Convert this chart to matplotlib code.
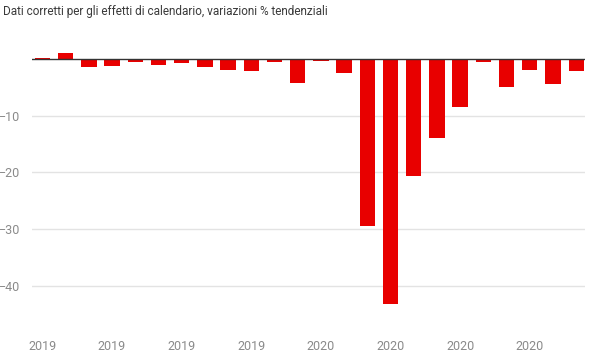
import matplotlib
matplotlib.use('Agg')
from matplotlib import pyplot as plt

# dati: variazioni % tendenziali
values = [0.2, 1.1, -1.35, -1.2, -0.5, -1.0, -0.65, -1.5, -1.9, -2.2, -0.5, -4.2,
          -0.3, -2.4, -29.4, -43.3, -20.6, -13.9, -8.4, -0.5, -4.9, -1.9, -4.4, -2.1]
tick_pos = [0, 3, 6, 9, 12, 15, 18, 21]
tick_labels = ['2019', '2019', '2019', '2019', '2020', '2020', '2020', '2020']
y_ticks = [-10, -20, -30, -40]

plt.rcParams['font.family'] = ['Roboto', 'DejaVu Sans']

fig = plt.figure(figsize=(6.02, 3.63), dpi=100)
ax = fig.add_axes([32 / 602, 1 - 330 / 363, (585 - 32) / 602, (330 - 40) / 363])

x = list(range(len(values)))
ax.bar(x, values, width=0.66, color='#e80000', zorder=3)

ax.axhline(0, color='#333333', linewidth=1, zorder=4)
for t in y_ticks:
    ax.axhline(t, color='#e3e3e3', linewidth=1, zorder=1)

ax.set_xlim(-0.45, 23.38)
ax.set_ylim(-47.8, 3.35)

ax.set_xticks(tick_pos)
ax.set_xticklabels(tick_labels)
ax.set_yticks(y_ticks)
ax.set_yticklabels(['\u221210', '\u221220', '\u221230', '\u221240'])
ax.tick_params(axis='both', length=0, colors='#8a8a8a', labelsize=9)
ax.tick_params(axis='x', pad=7)
for lbl in ax.get_yticklabels():
    lbl.set_horizontalalignment('left')
    lbl.set_x(-28 / 553)
for s in ax.spines.values():
    s.set_visible(False)

fig.text(3 / 602, 1 - 12 / 363, 'Dati corretti per gli effetti di calendario, variazioni % tendenziali',
         fontsize=8.5, color='#3a3a3a', va='center', ha='left')

fig.savefig('out.png', dpi=100)
